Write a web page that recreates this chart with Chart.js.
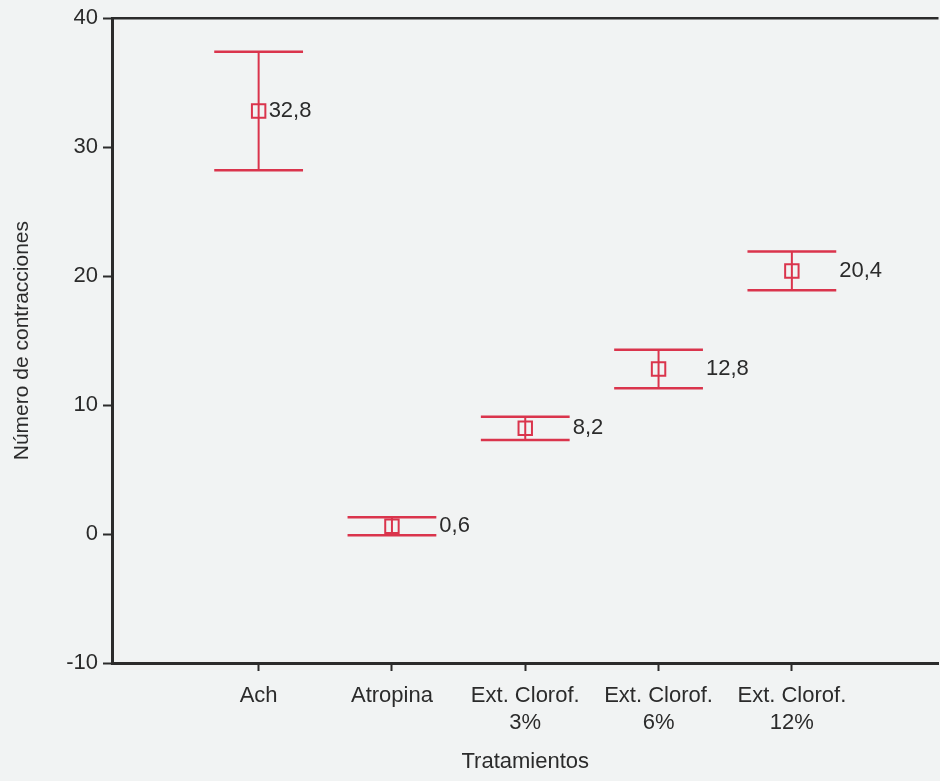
<!DOCTYPE html>
<html>
<head>
<meta charset="utf-8">
<script src="https://cdn.jsdelivr.net/npm/chart.js@4.4.1/dist/chart.umd.min.js"></script>
<style>
  html, body { margin: 0; padding: 0; background: #f1f3f3; overflow: hidden; width: 940px; height: 781px; }
  #wrap { width: 950px; height: 781px; }
</style>
</head>
<body>
<div id="wrap"><canvas id="c" width="950" height="781"></canvas></div>
<script>
// Treatments and their mean contraction counts with interval bounds
const categories = ['Ach', 'Atropina', ['Ext. Clorof.', '3%'], ['Ext. Clorof.', '6%'], ['Ext. Clorof.', '12%']];
const means = [32.8, 0.6, 8.2, 12.8, 20.4];
const lower = [28.2, -0.1, 7.3, 11.3, 18.9];
const upper = [37.4, 1.3, 9.1, 14.3, 21.9];
const yTicks = [-10, 0, 10, 20, 30, 40];

const RED = '#da344c';
const INK = '#2b2b2b';
const FONT = '"Liberation Sans", Arial, Helvetica, sans-serif';
const CAP = 0.333; // half width of the whisker caps, in category units

const fmt = v => v.toFixed(1).replace('.', ',');

// Frame line on top, then whiskers, caps and value labels for every treatment
const errorBars = {
  id: 'errorBars',
  beforeDatasetsDraw(chart) {
    const { ctx, chartArea: a } = chart;
    ctx.save();
    ctx.strokeStyle = INK;
    ctx.lineWidth = 2.5;
    ctx.beginPath();
    ctx.moveTo(a.left, a.top);
    ctx.lineTo(a.right, a.top);
    ctx.stroke();
    ctx.restore();
  },
  afterDatasetsDraw(chart) {
    const { ctx, scales: { x, y } } = chart;
    ctx.save();
    ctx.strokeStyle = RED;
    means.forEach((m, i) => {
      const cx = x.getPixelForValue(i + 1);
      const xl = x.getPixelForValue(i + 1 - CAP);
      const xr = x.getPixelForValue(i + 1 + CAP);
      const yl = y.getPixelForValue(lower[i]);
      const yh = y.getPixelForValue(upper[i]);
      const ym = y.getPixelForValue(m);

      ctx.lineWidth = 2;
      ctx.beginPath();
      ctx.moveTo(cx, yl);
      ctx.lineTo(cx, yh);
      ctx.stroke();

      ctx.lineWidth = 2.5;
      ctx.beginPath();
      ctx.moveTo(xl, yl); ctx.lineTo(xr, yl);
      ctx.moveTo(xl, yh); ctx.lineTo(xr, yh);
      ctx.stroke();

      // label sits beside the marker when the caps are far away, otherwise past the caps
      const roomy = (yl - yh) > 40;
      const lx = roomy ? cx + 10 : xr + 3;
      ctx.fillStyle = INK;
      ctx.font = '22px ' + FONT;
      ctx.textAlign = 'left';
      ctx.textBaseline = 'middle';
      ctx.fillText(fmt(m), lx, ym);
    });
    ctx.restore();
  }
};

new Chart(document.getElementById('c'), {
  type: 'scatter',
  data: {
    datasets: [{
      data: means.map((m, i) => ({ x: i + 1, y: m })),
      pointStyle: 'rect',
      radius: 9.5,
      borderWidth: 2,
      borderColor: RED,
      backgroundColor: 'rgba(0,0,0,0)'
    }]
  },
  options: {
    responsive: false,
    animation: false,
    events: [],
    layout: { padding: { top: 18, left: 0, right: 0, bottom: 0 } },
    plugins: { legend: { display: false }, tooltip: { enabled: false } },
    scales: {
      x: {
        type: 'linear',
        min: -0.1,
        max: 6.1,
        afterBuildTicks: s => { s.ticks = categories.map((c, i) => ({ value: i + 1 })); },
        afterFit: s => { s.height = 118; },
        grid: { drawOnChartArea: false, drawTicks: true, tickLength: 8, tickWidth: 2, tickColor: INK },
        border: { display: true, color: INK, width: 3 },
        ticks: {
          autoSkip: false,
          maxRotation: 0,
          padding: 12,
          color: INK,
          font: { family: FONT, size: 22, lineHeight: 1.22 },
          callback: v => categories[Math.round(v) - 1]
        },
        title: {
          display: true,
          text: 'Tratamientos',
          color: INK,
          font: { family: FONT, size: 22 },
          padding: { top: 0, bottom: 6 }
        }
      },
      y: {
        min: -10,
        max: 40,
        afterBuildTicks: s => { s.ticks = yTicks.map(v => ({ value: v })); },
        afterFit: s => { s.width = 112; },
        grid: { drawOnChartArea: false, drawTicks: true, tickLength: 9, tickWidth: 2, tickColor: INK },
        border: { display: true, color: INK, width: 3 },
        ticks: {
          padding: 5,
          color: INK,
          font: { family: FONT, size: 22 }
        },
        title: {
          display: true,
          text: 'Número de contracciones',
          color: INK,
          font: { family: FONT, size: 21 },
          padding: { top: 10, bottom: 0 }
        }
      }
    }
  },
  plugins: [errorBars]
});
</script>
</body>
</html>
